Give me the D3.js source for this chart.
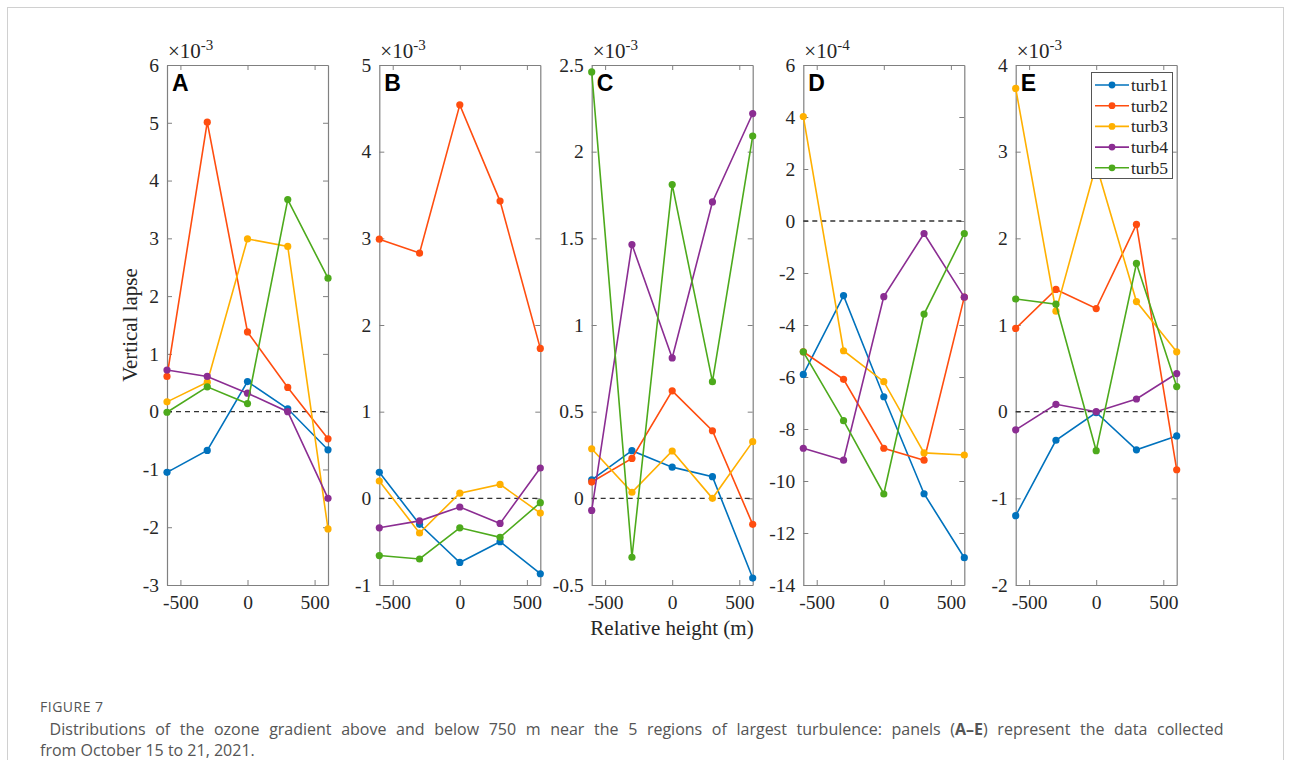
<!DOCTYPE html>
<html>
<head>
<meta charset="utf-8">
<script src="https://cdn.jsdelivr.net/npm/d3@7"></script>
<style>
  html, body { margin: 0; padding: 0; background: #fff; }
  svg { display: block; }
</style>
</head>
<body>
<svg id="fig" width="1291" height="760"></svg>
<script>
// Relative height of each sample (m)
const heights = [-600, -300, 0, 300, 600];

const seriesNames = ["turb1", "turb2", "turb3", "turb4", "turb5"];
const seriesColors = ["#0072BD", "#FF4D0F", "#FFB000", "#8B2D92", "#4DAA1C"];

// Panel labels, y-axis exponent and y-axis ranges (in units of the exponent)
const panelLetters = ["A", "B", "C", "D", "E"];
const panelExponents = [-3, -3, -3, -4, -3];
const panelDomains = [[-3, 6], [-1, 5], [-0.5, 2.5], [-14, 6], [-2, 4]];
const panelTicks = [
  [-3, -2, -1, 0, 1, 2, 3, 4, 5, 6],
  [-1, 0, 1, 2, 3, 4, 5],
  [-0.5, 0, 0.5, 1, 1.5, 2, 2.5],
  [-14, -12, -10, -8, -6, -4, -2, 0, 2, 4, 6],
  [-2, -1, 0, 1, 2, 3, 4]
];
const xTicks = [-500, 0, 500];

// Vertical lapse values per panel, one row per series (turb1..turb5)
const panelA = [
  [-1.05, -0.67, 0.52, 0.05, -0.66],
  [0.61, 5.01, 1.38, 0.42, -0.47],
  [0.17, 0.51, 2.99, 2.86, -2.03],
  [0.72, 0.61, 0.32, 0.00, -1.50],
  [-0.01, 0.43, 0.14, 3.67, 2.31]
];
const panelB = [
  [0.30, -0.30, -0.74, -0.50, -0.87],
  [2.99, 2.83, 4.54, 3.43, 1.73],
  [0.20, -0.40, 0.06, 0.16, -0.17],
  [-0.34, -0.26, -0.10, -0.29, 0.35],
  [-0.66, -0.70, -0.34, -0.45, -0.05]
];
const panelC = [
  [0.106, 0.275, 0.18, 0.125, -0.46],
  [0.094, 0.23, 0.62, 0.39, -0.15],
  [0.286, 0.035, 0.273, 0.00, 0.327],
  [-0.07, 1.464, 0.81, 1.71, 2.22],
  [2.46, -0.34, 1.81, 0.673, 2.09]
];
const panelD = [
  [-5.90, -2.87, -6.76, -10.49, -12.95],
  [-5.03, -6.09, -8.74, -9.20, -2.93],
  [4.02, -4.99, -6.18, -8.92, -9.00],
  [-8.74, -9.20, -2.91, -0.48, -2.93],
  [-5.03, -7.68, -10.50, -3.58, -0.48]
];
const panelE = [
  [-1.20, -0.33, -0.01, -0.44, -0.28],
  [0.96, 1.41, 1.19, 2.16, -0.67],
  [3.73, 1.16, 2.85, 1.27, 0.69],
  [-0.21, 0.085, 0.00, 0.146, 0.44],
  [1.30, 1.24, -0.45, 1.71, 0.29]
];
const panelData = [panelA, panelB, panelC, panelD, panelE];

const svg = d3.select("#fig");
const serif = "'Liberation Serif', 'Times New Roman', serif";
// plain hyphen for negative tick labels
const fmt = d => d3.format("~g")(d).replace("\u2212", "-");

// outer frame of the figure card
svg.append("rect")
  .attr("x", 7.5).attr("y", 7.5)
  .attr("width", 1276).attr("height", 780)
  .attr("fill", "none").attr("stroke", "#d0d0d0").attr("stroke-width", 1);

const plotTop = 65, plotBottom = 585, plotWidth = 161;
const panelLefts = [167, 379.3, 591.7, 803.3, 1015.7];
const tickLen = 5;
const axisColor = "#808080";
const textColor = "#262626";

panelData.forEach((rows, p) => {
  const left = panelLefts[p];
  const x = d3.scaleLinear().domain([-600, 600]).range([left, left + plotWidth]);
  const y = d3.scaleLinear().domain(panelDomains[p]).range([plotBottom, plotTop]);
  const g = svg.append("g");

  // inward ticks on all four sides, labels on left and bottom
  const yLeft = d3.axisLeft(y).tickValues(panelTicks[p]).tickSizeInner(-tickLen).tickSizeOuter(0)
    .tickPadding(8).tickFormat(fmt);
  const yRight = d3.axisRight(y).tickValues(panelTicks[p]).tickSizeInner(-tickLen).tickSizeOuter(0)
    .tickFormat("");
  const xBottom = d3.axisBottom(x).tickValues(xTicks).tickSizeInner(-tickLen).tickSizeOuter(0)
    .tickPadding(10).tickFormat(fmt);
  const xTop = d3.axisTop(x).tickValues(xTicks).tickSizeInner(-tickLen).tickSizeOuter(0)
    .tickFormat("");

  const axes = [
    g.append("g").attr("transform", `translate(${left},0)`).call(yLeft),
    g.append("g").attr("transform", `translate(${left + plotWidth},0)`).call(yRight),
    g.append("g").attr("transform", `translate(0,${plotBottom})`).call(xBottom),
    g.append("g").attr("transform", `translate(0,${plotTop})`).call(xTop)
  ];
  axes.forEach(a => {
    a.select(".domain").attr("stroke", axisColor).attr("stroke-width", 1.2);
    a.selectAll(".tick line").attr("stroke", axisColor).attr("stroke-width", 1);
    a.selectAll(".tick text").attr("fill", textColor)
      .style("font-family", serif).style("font-size", "19.5px");
  });

  // zero reference line
  g.append("line")
    .attr("x1", x(-600)).attr("x2", x(600))
    .attr("y1", y(0)).attr("y2", y(0))
    .attr("stroke", "#333").attr("stroke-width", 1.3)
    .attr("stroke-dasharray", "5,4");

  const line = d3.line().x((d, i) => x(heights[i])).y(d => y(d));
  rows.forEach((vals, s) => {
    g.append("path")
      .datum(vals)
      .attr("d", line)
      .attr("fill", "none")
      .attr("stroke", seriesColors[s])
      .attr("stroke-width", 1.6);
    g.selectAll(null)
      .data(vals)
      .enter().append("circle")
      .attr("cx", (d, i) => x(heights[i]))
      .attr("cy", d => y(d))
      .attr("r", 3.6)
      .attr("fill", seriesColors[s]);
  });

  // exponent label above the axis
  const ex = g.append("text")
    .attr("x", left + 1).attr("y", 58)
    .attr("fill", textColor)
    .style("font-family", serif).style("font-size", "21px");
  ex.append("tspan").text("×10");
  ex.append("tspan").attr("dy", -8).style("font-size", "15px").text(String(panelExponents[p]));

  // panel letter
  g.append("text")
    .attr("x", left + 5).attr("y", 91)
    .attr("fill", "#000")
    .style("font-family", "'Liberation Sans', Arial, sans-serif")
    .style("font-weight", "bold").style("font-size", "23px")
    .text(panelLetters[p]);

  // legend in the last panel
  if (p === 4) {
    const lg = g.append("g");
    lg.append("rect")
      .attr("x", 1091.5).attr("y", 72.5).attr("width", 81).attr("height", 106)
      .attr("fill", "#fff").attr("stroke", "#555").attr("stroke-width", 1);
    seriesNames.forEach((name, s) => {
      const cy = 85 + s * 20.7;
      lg.append("line").attr("x1", 1095).attr("x2", 1129).attr("y1", cy).attr("y2", cy)
        .attr("stroke", seriesColors[s]).attr("stroke-width", 1.6);
      lg.append("circle").attr("cx", 1112).attr("cy", cy).attr("r", 3.4).attr("fill", seriesColors[s]);
      lg.append("text").attr("x", 1131).attr("y", cy + 6)
        .attr("fill", textColor)
        .style("font-family", serif).style("font-size", "17.5px")
        .text(name);
    });
  }
});

// shared axis titles
svg.append("text")
  .attr("transform", "translate(137,325) rotate(-90)")
  .attr("text-anchor", "middle")
  .attr("fill", textColor)
  .style("font-family", serif).style("font-size", "21px")
  .text("Vertical lapse");

svg.append("text")
  .attr("x", 672).attr("y", 635)
  .attr("text-anchor", "middle")
  .attr("fill", textColor)
  .style("font-family", serif).style("font-size", "21px")
  .text("Relative height (m)");

// caption
const sans = "'Open Sans', 'Noto Sans', sans-serif";
svg.append("text")
  .attr("x", 40).attr("y", 712)
  .attr("fill", "#555")
  .style("font-family", sans).style("font-size", "14px")
  .style("letter-spacing", "0.5px")
  .text("FIGURE 7");

const cap1 = svg.append("text")
  .attr("x", 40).attr("y", 735)
  .attr("fill", "#555")
  .style("font-family", sans).style("font-size", "16px")
  .attr("xml:space", "preserve");
cap1.append("tspan").text(" Distributions of the ozone gradient above and below 750 m near the 5 regions of largest turbulence: panels (");
cap1.append("tspan").style("font-weight", "bold").text("A–E");
cap1.append("tspan").text(") represent the data collected");

// justified first line: spread the words out to the column width
const capRight = 1218;
const natural = cap1.node().getComputedTextLength();
const nSpaces = (cap1.text().trim().match(/ /g) || []).length;
if (nSpaces > 0 && natural < capRight - 40) {
  cap1.style("word-spacing", ((capRight - 40 - natural) / nSpaces) + "px");
}

svg.append("text")
  .attr("x", 40).attr("y", 756)
  .attr("fill", "#555")
  .style("font-family", sans).style("font-size", "16px")
  .text("from October 15 to 21, 2021.");
</script>
</body>
</html>
